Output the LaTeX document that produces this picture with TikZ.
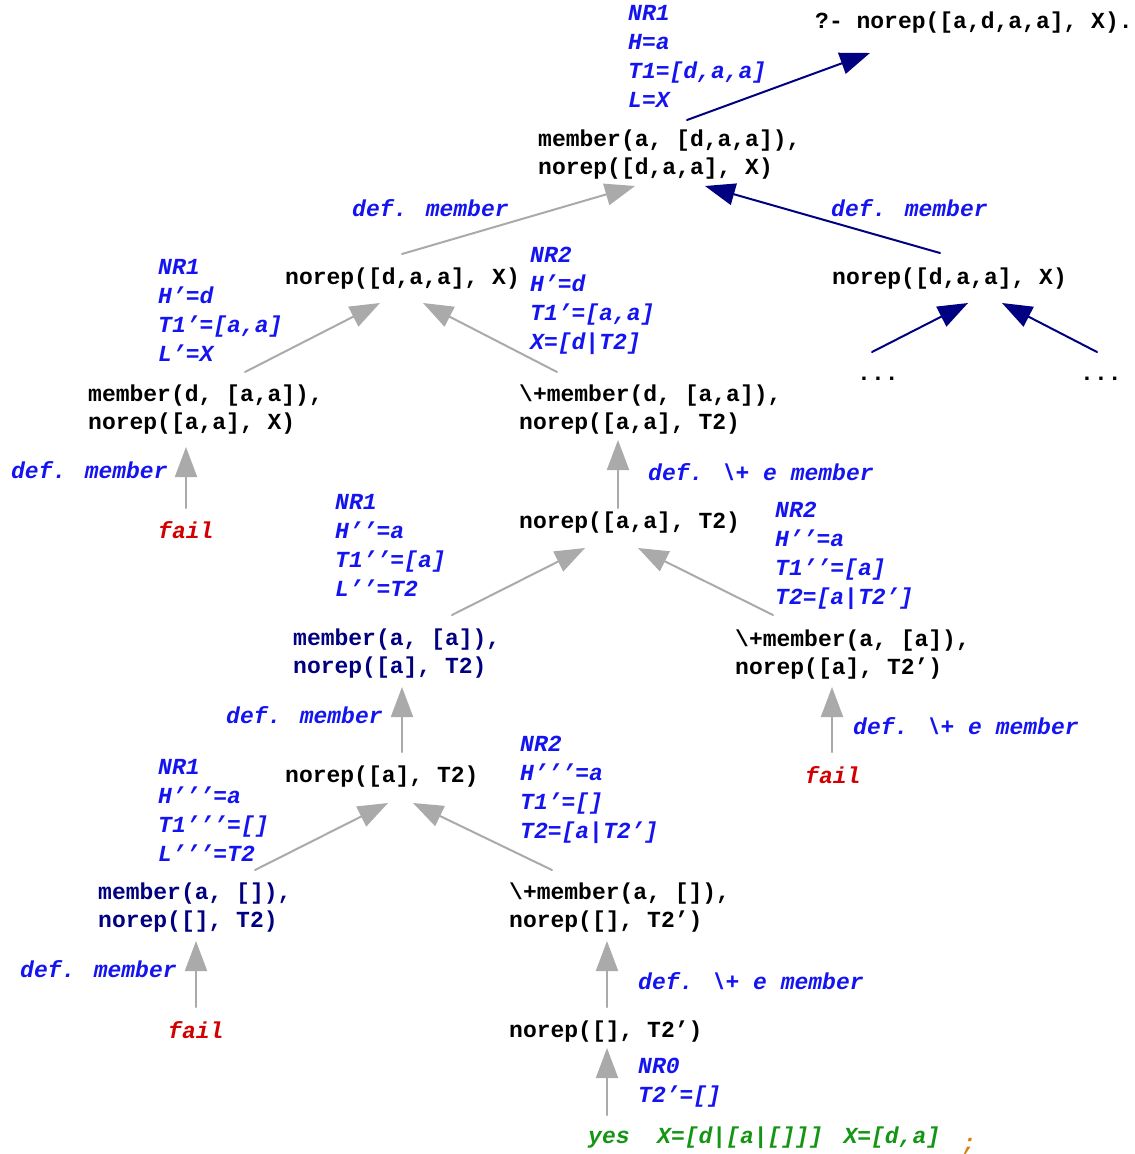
\documentclass[tikz,border=0pt]{standalone}
\usepackage{fontspec}
\usetikzlibrary{arrows.meta,calc}
\newfontfamily\prologfont{Liberation Mono}
\definecolor{navyc}{RGB}{0,0,128}
\definecolor{notec}{RGB}{20,20,240}
\definecolor{linkgray}{RGB}{170,170,170}
\definecolor{failred}{RGB}{210,0,0}
\definecolor{yesgreen}{RGB}{20,150,20}
\definecolor{semiorange}{RGB}{210,130,20}
\tikzset{
  goal/.style={font=\prologfont\fontsize{23}{28}\selectfont\bfseries, anchor=west, inner sep=0pt, align=left},
  navygoal/.style={goal, text=navyc},
  note/.style={font=\prologfont\fontsize{23}{29}\selectfont\bfseries\itshape, text=notec, anchor=west, inner sep=0pt, align=left},
  failnote/.style={note, text=failred},
  yesnote/.style={note, text=yesgreen},
  graylink/.style={->, draw=linkgray, line width=2pt},
  navylink/.style={->, draw=navyc, line width=2pt}
}

\begin{document}
\begin{tikzpicture}[line cap=round,line join=round,>={Triangle[length=30pt,width=22pt]},x=1pt,y=-1pt]
    \useasboundingbox (0,0) rectangle (1135,1154);
    \node[goal] (query) at (815,23) {?- norep([a,d,a,a], X).};
    \node[goal] (g1) at (538,155) {member(a, [d,a,a]),\\norep([d,a,a], X)};
    \node[goal] (g2) at (285,279) {norep([d,a,a], X)};
    \node[goal] (g3) at (832,279) {norep([d,a,a], X)};
    \node[goal] (dotsa) at (857,379) {...};
    \node[goal] (dotsb) at (1080,379) {...};
    \node[goal] (g4) at (88,410) {member(d, [a,a]),\\norep([a,a], X)};
    \node[goal] (g5) at (519,410) {\textbackslash+member(d, [a,a]),\\norep([a,a], T2)};
    \node[failnote] (faila) at (158,530) {fail};
    \node[goal] (g6) at (519,523) {norep([a,a], T2)};
    \node[navygoal] (g7) at (293,654) {member(a, [a]),\\norep([a], T2)};
    \node[goal] (g8) at (735,655) {\textbackslash+member(a, [a]),\\norep([a], T2’)};
    \node[goal] (g9) at (285,777) {norep([a], T2)};
    \node[failnote] (failb) at (805,775) {fail};
    \node[navygoal] (g10) at (98,908) {member(a, []),\\norep([], T2)};
    \node[goal] (g11) at (509,908) {\textbackslash+member(a, []),\\norep([], T2’)};
    \node[failnote] (failc) at (168,1030) {fail};
    \node[goal] (g12) at (509,1032) {norep([], T2’)};
    \node[yesnote] (yes) at (588,1138) {yes~~X=[d|[a|[]]]~\hspace{7pt}X=[d,a]};
    \node[note, text=semiorange] (semi) at (962,1146) {;};

    \node[note] (nra) at (628,56) {NR1\\H=a\\T1=[d,a,a]\\L=X};
    \node[note] (defa) at (352,208) {def. member};
    \node[note] (defb) at (831,208) {def. member};
    \node[note] (nrb) at (158,310) {NR1\\H’=d\\T1’=[a,a]\\L’=X};
    \node[note] (nrc) at (530,301) {NR2\\H’=d\\T1’=[a,a]\\X=[d|T2]};
    \node[note] (defc) at (11,470) {def. member};
    \node[note] (defd) at (648,472) {def. \textbackslash+ e member};
    \node[note] (nrd) at (335,545) {NR1\\H’’=a\\T1’’=[a]\\L’’=T2};
    \node[note] (nre) at (775,556) {NR2\\H’’=a\\T1’’=[a]\\T2=[a|T2’]};
    \node[note] (defe) at (226,715) {def. member};
    \node[note] (deff) at (853,726) {def. \textbackslash+ e member};
    \node[note] (nrf) at (158,810) {NR1\\H’’’=a\\T1’’’=[]\\L’’’=T2};
    \node[note] (nrg) at (520,790) {NR2\\H’’’=a\\T1’=[]\\T2=[a|T2’]};
    \node[note] (defg) at (20,969) {def. member};
    \node[note] (defh) at (638,981) {def. \textbackslash+ e member};
    \node[note] (nrh) at (638,1083) {NR0\\T2’=[]};

    \draw[navylink] ($(g1.west)+(149,-35)$) -- ($(query.west)+(55,30)$);
    \draw[graylink] ($(g2.west)+(117,-25)$) -- ($(g1.west)+(97,31)$);
    \draw[navylink] ($(g3.west)+(108,-26)$) -- ($(g1.west)+(167,31)$);
    \draw[graylink] ($(g4.west)+(157,-38)$) -- ($(g2.west)+(95,24)$);
    \draw[graylink] ($(g5.west)+(38,-38)$) -- ($(g2.west)+(138,24)$);
    \draw[navylink] ($(dotsa.west)+(15,-27)$) -- ($(g3.west)+(136,24)$);
    \draw[navylink] ($(dotsb.west)+(17,-27)$) -- ($(g3.west)+(170,24)$);
    \draw[graylink] ($(faila.west)+(28,-22)$) -- ($(g4.west)+(98,37)$);
    \draw[graylink] ($(g6.west)+(99,-15)$) -- ($(g5.west)+(99,30)$);
    \draw[graylink] ($(g7.west)+(159,-39)$) -- ($(g6.west)+(66,25)$);
    \draw[graylink] ($(g8.west)+(38,-40)$) -- ($(g6.west)+(119,25)$);
    \draw[graylink] ($(g9.west)+(117,-25)$) -- ($(g7.west)+(109,33)$);
    \draw[graylink] ($(failb.west)+(27,-23)$) -- ($(g8.west)+(97,32)$);
    \draw[graylink] ($(g10.west)+(157,-38)$) -- ($(g9.west)+(103,26)$);
    \draw[graylink] ($(g11.west)+(43,-38)$) -- ($(g9.west)+(128,26)$);
    \draw[graylink] ($(failc.west)+(28,-23)$) -- ($(g10.west)+(98,33)$);
    \draw[graylink] ($(g12.west)+(98,-25)$) -- ($(g11.west)+(98,33)$);
    \draw[graylink] ($(yes.west)+(19,-23)$) -- ($(g12.west)+(98,16)$);
\end{tikzpicture}
\end{document}
